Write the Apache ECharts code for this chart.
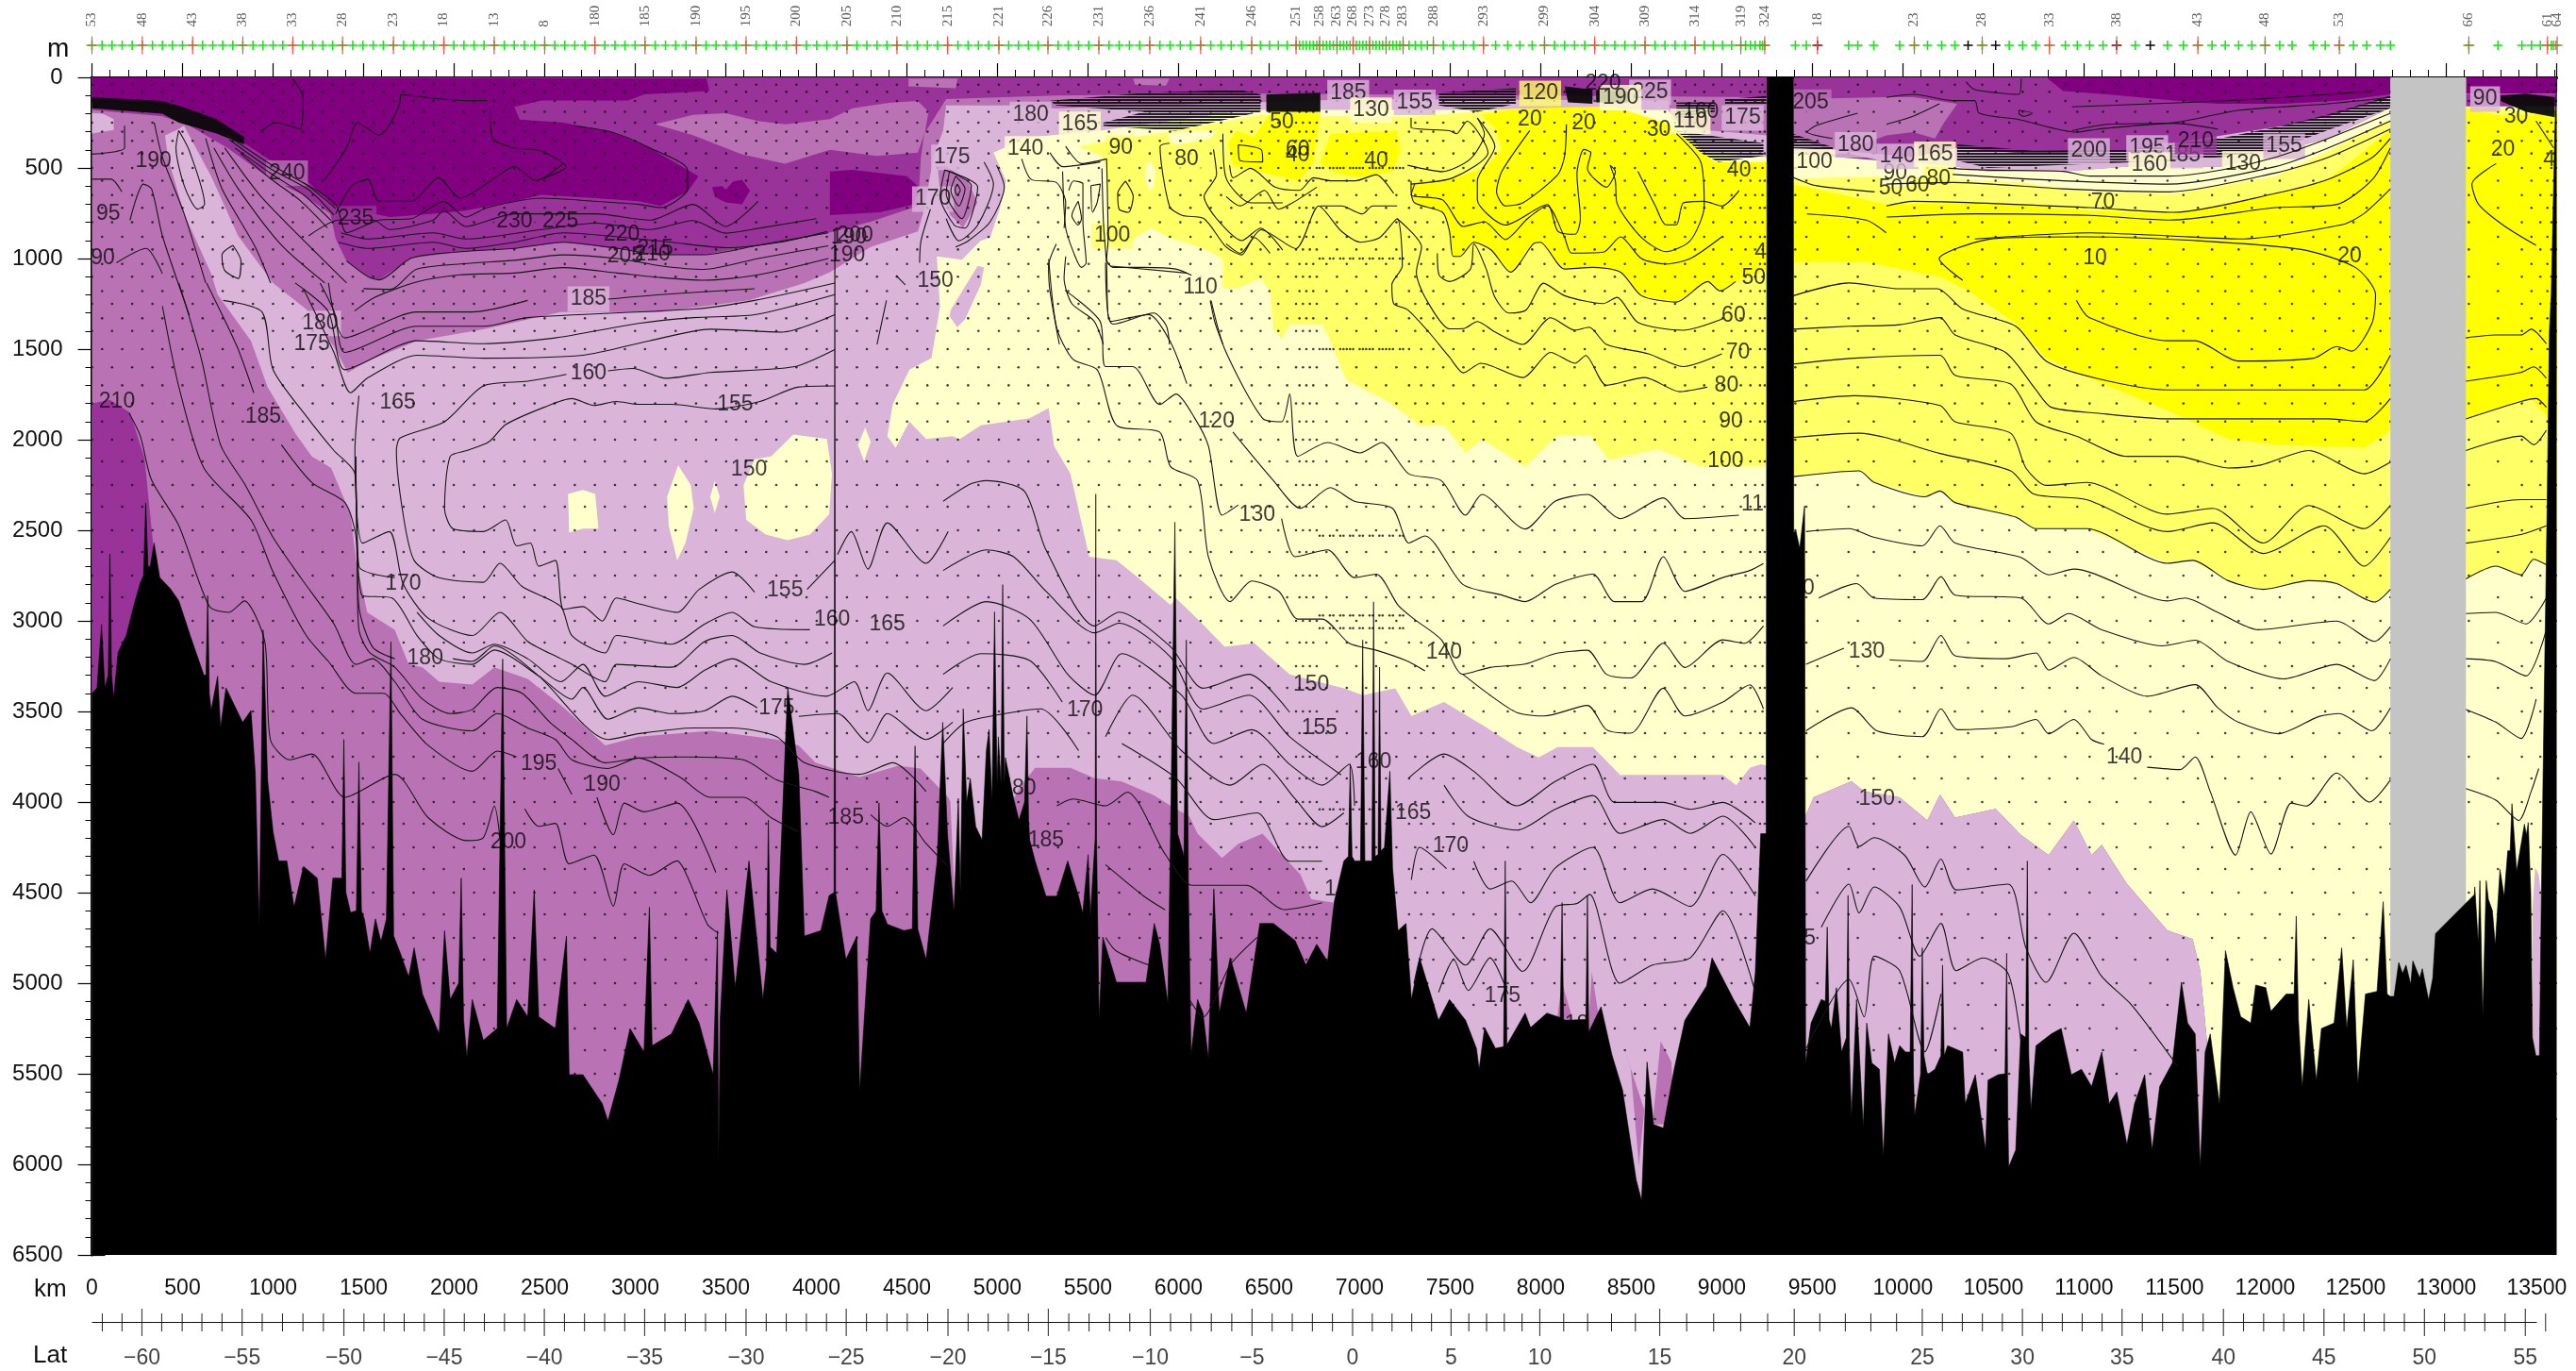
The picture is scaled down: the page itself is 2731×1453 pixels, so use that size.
<!DOCTYPE html>
<html>
<head>
<meta charset="utf-8">
<style>html,body{margin:0;background:#fff}#main{width:2731px;height:1453px}</style>
<script src="https://cdn.jsdelivr.net/npm/echarts@6/dist/echarts.min.js"></script>
</head>
<body>
<div id="main"></div>
<script>
// colours of the filled bands
const cDark = '#800080', cPurple = '#993399', cMedium = '#b973b4', cLight = '#dbb5d9';
const cPale = '#ffffcc', cLemon = '#ffff66', cYellow = '#ffff00', cGray = '#c4c4c4', cInk = 'rgba(10,10,10,0.95)';

// top strip: station ticks and numbers
const stationLabels = ['53','48','43','38','33','28','23','18','13','8','180','185','190','195','200','205','210','215','221','226','231','236','241','246','251','258','263','268','273','278','283','288','293','299','304','309','314','319','324','18','23','28','33','38','43','48','53','66','61','64'];
const stationLabelKm = [0,278,556,833,1109,1384,1665,1943,2221,2500,2777,3054,3336,3612,3890,4169,4445,4725,5008,5279,5560,5841,6122,6404,6649,6779,6875,6964,7055,7146,7240,7407,7684,8021,8298,8576,8852,9105,9237,9528,10063,10438,10809,11180,11629,12000,12410,13125,13559,13613];
const stationKm = [0,56,111,167,222,278,334,389,445,500,556,611,667,722,778,833,889,944,1000,1054,1109,1164,1219,1274,1329,1384,1440,1496,1553,1609,1665,1721,1776,1832,1887,1943,1998,2054,2110,2165,2221,2277,2332,2388,2444,2500,2555,2611,2666,2722,2777,2832,2888,2943,2999,3054,3110,3167,3223,3280,3336,3391,3446,3502,3557,3612,3668,3723,3779,3834,3890,3946,4002,4058,4113,4169,4224,4279,4335,4390,4445,4501,4557,4613,4669,4725,4782,4838,4895,4951,5008,5062,5116,5171,5225,5279,5335,5391,5448,5504,5560,5616,5672,5729,5785,5841,5897,5953,6010,6066,6122,6178,6235,6291,6348,6404,6453,6502,6551,6600,6649,6668,6687,6706,6725,6744,6763,6779,6798,6817,6836,6855,6875,6893,6911,6929,6947,6964,6982,7000,7018,7036,7055,7073,7091,7109,7127,7146,7165,7184,7203,7222,7240,7273,7307,7340,7374,7407,7462,7518,7573,7629,7684,7751,7818,7885,7953,8021,8076,8132,8187,8243,8298,8354,8409,8465,8520,8576,8631,8686,8742,8797,8852,8903,8953,9004,9054,9105,9131,9158,9184,9211,9225,9237,9406,9467,9528,9700,9751,9839,9982,10063,10136,10214,10287,10360,10438,10512,10587,10661,10734,10809,10897,10963,11031,11105,11180,11283,11366,11461,11549,11629,11707,11780,11854,11927,12000,12081,12149,12266,12332,12410,12488,12561,12637,12692,13125,13286,13418,13471,13520,13559,13581,13593,13606];
const blackStationKm = [9528,10360,10512,11180,11366];

// bottle depths, stations alternate between the two lists
const levelsOdd = [40,130,250,350,500,650,800,950,1100,1250,1400,1600,1800,2000,2250,2500,2750,3000,3250,3500,3750,4000,4250,4500,4750,5000,5250,5500,5750];
const levelsEven = [80,190,300,420,570,720,880,1030,1180,1330,1500,1700,1900,2120,2370,2620,2870,3120,3370,3620,3870,4120,4370,4620,4870,5120,5370,5620];
// the closely spaced stations near the equator were only sampled at a few depths
const levelsDense = [500,1000,1500,2530,2970,3040,4040];

// bottom strip: latitude
const latLabels = ['−60','−55','−50','−45','−40','−35','−30','−25','−20','−15','−10','−5','0','5','10','15','20','25','30','35','40','45','50','55'];
const latMajorKm = [276,829,1391,1945,2498,3052,3612,4165,4727,5281,5844,6406,6961,7505,7995,8657,9400,10107,10660,11210,11770,12325,12880,13437];
const latMinorKm = [57,166,385,498,607,718,940,1052,1165,1278,1502,1613,1724,1835,2056,2167,2278,2389,2609,2720,2831,2942,3164,3276,3388,3500,3723,3834,3945,4056,4277,4390,4502,4615,4838,4949,5060,5171,5394,5506,5619,5731,5956,6069,6181,6294,6517,6628,6739,6850,7070,7179,7288,7397,7603,7701,7799,7897,8127,8259,8391,8523,8806,8955,9104,9253,9541,9682,9823,9965,10218,10328,10439,10549,10770,10880,10990,11100,11322,11434,11546,11658,11881,11992,12103,12214,12436,12547,12658,12769,12991,13102,13213,13325,13549];

// sea floor, read spike by spike
const bathymetry = [[0,3400],[28,3370],[53,3020],[71,3370],[90,3300],[99,2630],[108,3300],[120,3430],[144,3175],[190,3080],[230,2920],[267,2790],[285,2750],[297,2350],[309,2700],[322,2700],[343,2570],[374,2760],[435,2825],[480,2890],[542,3080],[618,3300],[630,3300],[639,2860],[648,3400],[658,3495],[694,3305],[710,3590],[740,3370],[786,3465],[832,3560],[878,3495],[902,3845],[924,4675],[945,3050],[970,3880],[1000,4165],[1031,4325],[1076,4325],[1116,4580],[1168,4355],[1244,4420],[1290,4870],[1330,4420],[1380,4420],[1391,3655],[1402,4500],[1428,4610],[1460,4600],[1474,3780],[1488,4600],[1504,4645],[1535,4835],[1565,4645],[1596,4770],[1626,4645],[1651,3115],[1666,4740],[1703,4835],[1749,4965],[1779,4805],[1825,5060],[1917,5280],[1947,4710],[1978,5090],[2025,5000],[2039,4420],[2052,5200],[2070,5410],[2100,5090],[2161,5315],[2238,5250],[2268,3210],[2290,5250],[2345,5090],[2406,5185],[2442,4485],[2467,5185],[2559,5250],[2620,4740],[2635,5505],[2711,5505],[2818,5665],[2849,5760],[2910,5535],[2971,5250],[3048,5380],[3078,4580],[3093,5345],[3200,5280],[3292,5090],[3353,5220],[3430,5505],[3454,4710],[3460,5985],[3469,5200],[3506,4485],[3552,5025],[3628,4325],[3705,5090],[3725,4900],[3735,4100],[3745,4800],[3781,4835],[3842,3370],[3903,3845],[3934,4740],[4025,4710],[4071,4515],[4098,4500],[4102,840],[4106,4500],[4163,4870],[4224,4740],[4239,5600],[4300,4645],[4330,4600],[4346,4005],[4362,4600],[4392,4675],[4484,4710],[4530,4700],[4545,3690],[4560,4700],[4606,4870],[4667,4325],[4698,3560],[4724,4175],[4760,4615],[4784,3980],[4795,4500],[4811,3485],[4830,4000],[4850,3870],[4880,4135],[4915,4210],[4939,3715],[4954,3600],[4970,4000],[4984,2950],[4998,3900],[5005,3640],[5020,3900],[5029,2800],[5038,3900],[5044,3755],[5089,3980],[5119,4100],[5150,4000],[5163,3525],[5172,4100],[5178,4210],[5208,4325],[5268,4520],[5328,4520],[5388,4325],[5448,4520],[5471,4615],[5501,4290],[5513,4630],[5540,4200],[5543,2300],[5547,4200],[5561,5205],[5582,4745],[5657,4995],[5732,4995],[5821,4995],[5866,4670],[5896,4785],[5941,5110],[5956,4175],[5980,2455],[5995,4175],[6030,4300],[6043,3105],[6055,4500],[6069,5395],[6105,5090],[6135,5165],[6165,5415],[6195,4480],[6225,5165],[6285,4860],[6374,5165],[6449,4670],[6524,4670],[6644,4765],[6703,4900],[6763,4785],[6823,4880],[6859,4555],[6913,4325],[6938,4300],[6948,3790],[6958,4300],[6972,4325],[7005,4325],[7017,3105],[7029,4325],[7038,4325],[7068,4325],[7077,2895],[7086,4300],[7092,4290],[7102,4290],[7110,3255],[7118,4270],[7137,4250],[7167,3830],[7182,4365],[7212,4710],[7256,4670],[7286,5090],[7331,4860],[7436,5205],[7496,5090],[7585,5205],[7645,5360],[7660,5475],[7690,5245],[7750,5360],[7795,5350],[7804,4325],[7813,5340],[7825,5320],[7914,5165],[7944,5245],[8034,5165],[8108,5190],[8118,4555],[8126,5200],[8139,5205],[8250,5200],[8258,4515],[8265,5270],[8273,5280],[8333,5130],[8393,5395],[8452,5590],[8527,6085],[8557,6200],[8587,5435],[8623,5780],[8677,5800],[8737,5475],[8796,5205],[8916,5015],[8946,4860],[9065,5090],[9155,5245],[9185,4940],[9215,4175],[9245,4175],[9250,0],[9395,0],[9397,2510],[9410,2505],[9430,2600],[9457,2365],[9463,5440],[9493,5220],[9521,5155],[9549,5090],[9572,5100],[9582,4690],[9592,5200],[9605,5250],[9633,5025],[9661,5380],[9688,5300],[9697,4515],[9705,5400],[9716,5730],[9744,5090],[9781,5795],[9800,5220],[9828,5440],[9870,5475],[9892,5955],[9920,5280],[9954,5440],[9982,5345],[10015,5380],[10040,5380],[10051,4455],[10058,5500],[10065,5730],[10098,5500],[10107,4805],[10116,5400],[10135,5505],[10177,5475],[10210,5400],[10219,4900],[10228,5400],[10247,5345],[10330,5380],[10344,5665],[10400,5505],[10456,5920],[10470,5535],[10526,5505],[10564,5500],[10573,4835],[10579,5700],[10584,6015],[10623,5920],[10651,5280],[10678,5300],[10687,4325],[10695,5400],[10707,5700],[10735,5345],[10819,5280],[10874,5250],[10930,5505],[10986,5475],[11042,5570],[11098,5380],[11139,5665],[11181,5600],[11237,5890],[11279,5665],[11335,5505],[11376,5920],[11418,5570],[11488,5440],[11538,4995],[11572,5220],[11614,5280],[11642,6015],[11669,5380],[11697,5280],[11748,5665],[11781,4820],[11823,5025],[11865,5185],[11921,5220],[11948,5010],[12004,5025],[12032,5155],[12116,5060],[12160,5060],[12172,4630],[12184,5200],[12205,5570],[12241,5090],[12283,5535],[12311,5250],[12381,5220],[12423,4805],[12451,5250],[12487,4870],[12512,5555],[12554,5060],[12618,5045],[12652,4550],[12674,5060],[12691,5073],[12712,5073],[12738,4886],[12759,4946],[12778,4900],[12804,5007],[12816,4877],[12854,4972],[12868,4920],[12903,5094],[12926,4972],[12941,4726],[13155,4512],[13158,4469],[13177,4781],[13186,4434],[13202,5180],[13221,4434],[13233,4538],[13255,4599],[13271,4790],[13297,4373],[13320,4521],[13340,4269],[13353,4269],[13363,4009],[13389,4382],[13432,4122],[13443,4182],[13453,4113],[13467,4504],[13476,5300],[13495,5400],[13515,5400],[13526,4500],[13540,3500],[13557,2400],[13570,1400],[13580,1200],[13600,300],[13610,0]];

// filled bands, painted in this order
const baseA = [[0,0],[9250,0],[9250,6500],[0,6500]];
const deepLeft = [[0,1800],[100,1780],[210,1850],[290,2100],[330,2500],[370,2900],[370,3700],[0,3700]];
const lightMain = [[479,285],[508,267],[658,545],[807,875],[1000,1135],[1183,1280],[1336,1486],[1413,1630],[1520,1566],[1795,1454],[2161,1390],[2589,1295],[3139,1295],[3628,1230],[3934,1135],[4075,1075],[4300,936],[4561,850],[4596,728],[4648,433],[4700,294],[4717,155],[5082,155],[5325,172],[6436,138],[7000,120],[9250,130],[9250,6500],[6870,6500],[6853,4555],[6733,4537],[6673,4400],[6569,4290],[6464,4174],[6330,4231],[6240,4308],[6105,4174],[6060,4080],[5956,4021],[5866,3964],[5687,3887],[5537,3868],[5403,3811],[5208,3811],[5148,3887],[5089,3980],[5100,4900],[4780,4900],[4740,4000],[4728,3974],[4575,3815],[4453,3800],[4239,3862],[3995,3783],[3903,3687],[3781,3655],[3414,3607],[3017,3639],[2834,3687],[2711,3575],[2589,3465],[2406,3320],[2222,3256],[2100,3352],[1917,3336],[1825,3256],[1749,3240],[1672,3049],[1520,2953],[1458,2666],[1428,2411],[1321,2156],[1214,2092],[1122,1964],[970,1709],[878,1454],[694,1199],[658,1083],[509,753],[419,441],[404,320]];
const floorPatch1 = [[8079,5282],[8118,4995],[8168,5170],[8183,5320]];
const floorPatch2 = [[8258,5320],[8282,4938],[8324,5205]];
const floorPatch3 = [[8461,5358],[8497,5473],[8542,6008],[8572,5700]];
const floorPatch4 = [[8617,5778],[8662,5320],[8722,5435],[8737,5778]];
const surfacePocket = [[0,197],[60,200],[120,230],[120,290],[60,300],[0,310]];
const upperPurple = [[0,0],[9250,0],[9250,110],[6436,90],[5325,100],[4717,120],[4596,311],[4578,433],[4561,710],[4300,797],[4066,858],[3678,927],[3379,979],[3140,979],[2901,944],[2602,910],[2332,944],[2033,962],[1764,997],[1585,1118],[1525,1101],[1406,1014],[1346,892],[1316,753],[1166,649],[987,563],[748,389],[538,267],[389,215],[0,180]];
const mediumTongue = [[3110,259],[3319,207],[3499,198],[3678,241],[3828,259],[4075,230],[4200,170],[4400,140],[4560,130],[4620,190],[4600,300],[4561,415],[4335,433],[4075,400],[3827,476],[3588,424],[3319,319]];
const mediumTop1 = [[4509,7],[4780,7],[4770,60],[4509,50]];
const mediumTop2 = [[5750,7],[5950,7],[5930,45],[5760,40]];
const mediumRight = [[8700,120],[9250,120],[9250,320],[8900,290],[8730,240]];
const mediumSwirl = [[4670,490],[4720,490],[4840,580],[4890,690],[4810,830],[4740,760],[4680,600]];
const darkMain = [[0,0],[3394,7],[3409,76],[3050,94],[2960,128],[2482,128],[2332,163],[2362,233],[2602,250],[2870,302],[3080,389],[3289,510],[3349,545],[3289,632],[3140,710],[3020,684],[2781,667],[2482,649],[2332,684],[2063,736],[1884,753],[1645,771],[1555,753],[1346,719],[1196,580],[987,458],[748,302],[538,181],[389,163],[0,128]];
const darkIsland = [[3424,605],[3480,600],[3500,620],[3540,575],[3590,565],[3633,625],[3590,700],[3500,690],[3440,660]];
const darkCore = [[4075,520],[4200,510],[4500,545],[4560,600],[4540,700],[4350,745],[4075,760]];
const paleMain = [[4978,415],[5151,337],[5290,320],[5568,294],[6400,180],[8700,180],[8900,420],[9250,440],[9250,3800],[9215,3792],[9155,3811],[9080,3907],[9006,3850],[8677,3850],[8438,3850],[8288,3696],[8094,3696],[7989,3754],[7869,3696],[7690,3582],[7466,3448],[7286,3525],[7197,3372],[7017,3410],[6913,3372],[6614,3295],[6419,3124],[6255,3143],[6105,2990],[5986,2875],[5956,2913],[5776,2761],[5657,2665],[5507,2646],[5403,2188],[5313,2035],[5283,1825],[5178,1882],[4909,1920],[4790,1997],[4753,1980],[4606,1996],[4514,1900],[4438,2044],[4392,1980],[4422,1805],[4514,1613],[4636,1550],[4683,1266],[4665,988],[4804,1006],[4908,901],[4960,884],[5012,728],[5047,572]];
const lightIsland = [[4743,1283],[4891,1040],[4926,1049],[4908,1145],[4821,1335],[4778,1379],[4735,1318]];
const paleIsland1 = [[2629,2299],[2711,2277],[2779,2299],[2797,2491],[2711,2491],[2635,2513]];
const paleIsland2 = [[3237,2140],[3307,2251],[3323,2379],[3277,2570],[3232,2666],[3185,2475],[3176,2315]];
const paleIsland3 = [[3439,2226],[3466,2315],[3439,2405],[3414,2315]];
const paleIsland4 = [[3750,2092],[3873,1971],[4058,1996],[4086,2188],[4071,2411],[3965,2523],[3842,2555],[3720,2523],[3613,2443],[3598,2251],[3659,2108]];
const paleIsland5 = [[4270,1933],[4300,2012],[4264,2118],[4230,2028]];
const lemonMain = [[5446,381],[5637,346],[5880,311],[6453,207],[7265,220],[7862,172],[8400,200],[8710,259],[8850,370],[8961,467],[9250,470],[9250,2149],[8886,2149],[8647,2054],[8378,2111],[8273,1977],[8094,1977],[7914,2149],[7795,2073],[7675,1997],[7585,2073],[7466,1920],[7331,1920],[7152,1787],[6928,1672],[6823,1424],[6793,1366],[6614,1366],[6569,1443],[6523,1388],[6505,1179],[6453,1110],[6332,1162],[6245,1162],[6245,1006],[6158,953],[5950,884],[5846,832],[5724,910],[5620,930],[5600,500],[5577,433]];
const paleOval1 = [[5846,459],[5872,520],[5863,606],[5837,624],[5816,554],[5820,485]];
const paleOval2 = [[5941,311],[6072,294],[6210,294],[6175,337],[5985,372],[5950,346]];
const yellowMain = [[7670,207],[7862,172],[8400,160],[8710,259],[8961,467],[9250,470],[9250,1058],[9076,1127],[8990,1179],[8922,1127],[8749,1240],[8556,1205],[8441,1075],[8286,1049],[8132,1058],[7997,910],[7959,919],[7833,1075],[7727,953],[7631,910],[7554,988],[7516,988],[7496,849],[7458,745],[7304,693],[7284,624],[7284,572],[7496,563],[7689,502],[7785,398],[7747,277]];
const yellowLens1 = [[6321,294],[6417,329],[6513,190],[6783,190],[6745,467],[6668,572],[6513,537],[6379,502],[6301,485],[6273,363]];
const yellowLens2 = [[6841,311],[7207,294],[7226,398],[7188,520],[6995,554],[6841,520],[6783,467]];

const baseB = [[9395,0],[12692,0],[12692,6500],[9395,6500]];
const darkB = [[10800,7],[10885,76],[11129,94],[11495,128],[11739,146],[12105,146],[12422,128],[12692,94],[12692,0],[10800,0]];
const mediumB = [[9395,120],[9909,110],[10055,110],[10300,146],[10227,250],[10177,337],[10055,302],[9909,320],[9700,400],[9500,500],[9395,500]];
const lightB = [[9395,340],[9612,400],[10055,440],[10300,389],[10714,424],[11227,406],[11763,320],[12105,267],[12349,215],[12692,111],[12692,163],[12666,181],[12349,337],[11983,432],[11763,493],[11227,493],[10885,519],[10470,519],[10300,493],[10055,500],[9700,420],[9395,420]];
const paleB = [[9395,420],[10300,493],[10470,519],[10885,519],[11227,493],[11763,493],[11983,432],[12349,337],[12666,181],[12692,163],[12692,6500],[11684,6500],[11684,5378],[11642,4931],[11600,4756],[11460,4708],[11237,4452],[11098,4236],[11042,4293],[10944,4102],[10805,4293],[10651,4181],[10512,4038],[10288,4086],[10205,3958],[10135,4102],[9981,3974],[9786,3942],[9716,3885],[9507,3974],[9465,4070],[9395,4070]];
const lightDeepB = [[9395,4070],[9465,4070],[9507,3974],[9716,3885],[9786,3942],[9981,3974],[10135,4102],[10205,3958],[10288,4086],[10512,4038],[10651,4181],[10805,4293],[10944,4102],[11042,4293],[11098,4236],[11237,4452],[11460,4708],[11600,4756],[11642,4931],[11684,5378],[11684,6500],[9395,6500]];
const lemonB = [[9395,560],[9909,545],[10641,580],[11032,632],[11495,641],[12056,545],[12349,406],[12692,230],[12692,2826],[12604,2896],[12395,2794],[12241,2778],[11990,2826],[11795,2778],[11600,2666],[11460,2682],[11014,2491],[10735,2491],[10623,2427],[10288,2347],[10205,2283],[10121,2315],[9842,2236],[9758,2172],[9396,2204],[9395,2204]];
const yellowB = [[9395,590],[9909,701],[10470,693],[11032,736],[11495,753],[12056,641],[12349,563],[12692,290],[12692,1948],[12548,2044],[12074,2028],[11795,1996],[11460,1837],[11070,1677],[10791,1550],[10623,1358],[10344,1167],[10200,1100],[9800,1020],[9395,1020]];
const paleC = [[13109,0],[13610,0],[13610,6500],[13109,6500]];
const darkC = [[13109,0],[13610,0],[13610,90],[13109,90]];
const purpleC = [[13109,90],[13610,90],[13610,160],[13109,160]];
const lemonC = [[13109,165],[13610,190],[13610,2690],[13553,2690],[13483,2660],[13413,2746],[13274,2698],[13109,2768]];
const yellowC = [[13109,175],[13300,210],[13610,200],[13610,1900],[13553,1869],[13469,1773],[13109,1885]];
const stripeC = [[13491,4361],[13476,4600],[13476,5400],[13524,5400],[13524,4500],[13510,4400]];
const gapGray = [[12692,0],[13109,0],[13109,6500],[12692,6500]];

// dense thermocline: contours run together, solid where they merge, striped where still apart
const ribbon1 = [[0,110],[389,130],[508,165],[687,230],[840,330],[840,370],[687,310],[480,250],[389,200],[0,170]];
const ribbon3 = [[6485,94],[6783,85],[6783,190],[6485,190]];
const ribbon5 = [[8132,50],[8286,68],[8286,146],[8151,138]];
const ribbon6 = [[8306,68],[8537,85],[8537,138],[8306,138]];
const ribbon12 = [[13300,100],[13440,90],[13600,110],[13600,220],[13440,190],[13300,130]];
const stripes2 = [[5290,129],[5811,86],[6332,68],[6453,94],[6453,190],[5985,294],[5585,268],[5585,250],[5811,190],[5325,155]];
const stripes4 = [[7438,85],[7862,60],[7862,146],[7650,190],[7438,155]];
const stripes7 = [[8749,294],[8864,311],[9230,363],[9230,433],[8980,467],[8884,415]];
const stripes8 = [[9018,120],[9246,103],[9246,146],[9018,146]];
const stripes9 = [[8749,138],[8961,138],[8961,190],[8749,224]];
const stripes10 = [[9390,310],[9612,385],[9612,400],[9390,390]];
const stripes11 = [[10300,370],[10714,405],[11227,400],[11763,335],[12105,265],[12349,205],[12692,100],[12692,170],[12349,290],[12056,400],[11763,440],[11227,470],[10714,490],[10470,500],[10300,460]];

// contour lines, null where a label interrupts the line
const lineA1 = [[4102,1703],[3903,1709],[3689,1789],[3445,1830],[3200,1805],[3017,1805],[2895,1789],[2772,1811],[2650,1773],[2497,1821],[2284,1917],[2192,2012],[2070,2060],[1978,2092],[1947,2379],[1993,2491],[2161,2507],[2284,2443],[2345,2586],[2421,2570],[2467,2698],[2559,2666],[2604,2937],[2711,2921],[2818,3001],[2895,2874],[3017,2905],[3231,2953],[3353,2826],[3536,2730],[3659,2842],null,[3949,2826],[4102,2666]];
const lineA2 = [[4102,1502],[3873,1598],[3414,1629],[3170,1661],[2986,1607],[2849,1620],null,[2620,1639],[2406,1677],[2161,1703],[1947,1901],[1703,1990],[1681,2060],[1718,2411],[1779,2666],[1917,2762],[2161,2787],[2253,2682],[2375,2810],[2589,2921],[2650,3081],[2834,3177],[2895,3081],[3200,3129],[3384,3017],[3536,2953],[3659,3033],[3964,3049],null,[4117,2634],[4193,2507],[4285,2714],[4392,2459],[4606,2682],[4728,2507]];
const lineA3 = [[1474,1757],[1452,2060],[1495,2571],[1642,2507],[1718,2794],[1856,2985],[2100,3081],[2253,2953],[2406,3113],[2589,3209],[2650,3240],[2834,3336],[2895,3240],[3200,3256],[3384,3113],[3536,3081],[3689,3177],[3934,3240],[4087,3177]];
const lineA4 = [[1458,2092],[1474,2698],[1672,2762],null,[1795,2953],[1917,3081],[2100,3177],[2222,3129],[2406,3209],[2589,3336],[2711,3240],[2834,3416],[3017,3336],[3231,3368],[3384,3272],[3536,3209],[3750,3336],[4056,3416],[4209,3336],[4285,3496],[4392,3288],[4606,3496],[4753,3368]];
const lineA5 = [[1458,2156],[1489,2858],[1657,2874],[1795,3081],[1917,3209],[2100,3240],[2222,3161],[2467,3304],[2650,3432],[2711,3368],[2849,3543],[3017,3480],[3200,3512],[3384,3496],[3536,3416],[3674,3480],null,[3903,3527],[4117,3512],[4285,3671],[4392,3512],[4606,3655],[4753,3559]];
const lineL1 = [[205,1853],[267,1980],[328,2220],[480,2475],[649,2921],[756,2953],[841,2890],[954,3113],[985,3655],[1092,3767],[1214,3735],[1397,3974],[1672,3847],[1856,4086],[2070,4213],[2161,4197],[2222,4022],[2253,4197],null,[2390,4038],[2467,4134],[2559,4118],[2635,4341],[2772,4293],[2879,4574],[2940,4341],[3078,4405],[3231,4325],[3292,4420],[3399,4676],[3460,4724]];
const lineL2 = [[389,1263],[480,1709],[618,2156],[878,2443],[1000,2730],[1183,3081],[1306,3224],[1458,3400],[1611,3400],[1703,3512],[1856,3687],[2100,3830],[2238,3719],[2345,3751],null,[2574,3815],[2650,3958],null,[2788,3974],[2879,4181],[2940,4006],[3048,4054],[3231,4006],[3445,4389]];
const lineL3 = [[480,1135],[603,1550],[710,2028],[847,2251],[1000,2539],[1153,2762],[1336,3017],[1458,3240],[1550,3209],[1672,3336],[1825,3543],[2100,3607],[2238,3512],[2406,3591],[2559,3655],[2650,3767],[2849,3815],[3017,3757],[3246,3862],[3414,3974],[3598,3974],[3750,4086],[3903,4165]];
const lineL4 = [[633,1135],[801,1486],[893,1741],null,[1046,2028],[1214,2236],[1397,2347],[1458,2539],[1474,3049],[1535,3177],[1672,3256],[1825,3432],[1978,3512],[2100,3489],[2238,3368],[2375,3400],[2528,3559],[2650,3655],[2834,3783],[3017,3757],[3262,3751],[3598,3767],[3781,3878],[3995,3942],[4071,3974],null,[4300,4070],[4392,4134],[4484,4086],[4606,4229],[4728,4357]];
const lineL5 = [[725,1231],[939,1295],[1000,1613],[1183,1869],[1336,2060],[1452,2188],[1474,2921],[1550,3145],[1672,3209],null,[1993,3209],[2100,3224],[2222,3138],[2467,3304],[2849,3655],[3017,3623],[3323,3591],[3536,3591],[3781,3639],[3934,3783],[4239,3847],[4423,3783],[4606,3942]];
const lineU2 = [[4102,1310],[3811,1406],[3414,1390],[3078,1454],[2711,1534],[2161,1550],[1795,1534],[1519,1661],[1428,1741],[1336,1518],[1168,1167]];
const lineU3 = [[4102,1199],[3659,1310],[3323,1326],[3017,1358],[2559,1438],[2161,1470],[1795,1454],[1397,1614],[1306,1294],[1122,1135]];
const lineU4 = [[4102,1135],[3659,1231],[3323,1279],[2406,1326],[2161,1374],[1795,1374],[1397,1518],[1340,1300],[1260,1135]];
const lineU5 = [[3659,1167],[3139,1199],[2850,1224],null,[2406,1231],[2100,1295],[1795,1295],[1397,1438],[1306,1135]];
const lineT2 = [[180,267],[180,389],[0,424]];
const lineT3 = [[0,562],[105,562],[165,632]];
const lineT4 = [[210,788],[284,589],[329,615],[389,875],[538,1313]];
const lineT5 = [[344,250],[389,441],[509,753],[628,1135]];
const loopT6 = [[479,293],[538,406],[622,701],[583,727],[509,597],[464,389],[479,293]];
const loopT7 = [[778,927],[823,1014],[808,1110],[733,1066],[718,979],[778,927]];
const lineT8 = [[135,1023],[299,944],[389,1084]];
const lineS2 = [[673,389],[808,615],[1047,927],[1286,1135]];
const lineS3 = [[733,389],[927,650],[1196,927],[1406,1135]];
const lineS4 = [[628,337],[718,615],[897,927],[987,1135]];
const slope1 = [[748,320],[987,480],[1196,600],[1346,725]];
const slope2 = [[760,345],[987,505],[1196,620],[1336,760]];
const slope3 = [[790,390],[987,530],[1170,650],[1320,790]];
const slope4 = [[820,420],[987,560],[1150,680],[1300,830]];
const lineH1 = [[1346,753],[1436,597],[1525,563],[1585,684],[1764,684],[1914,554],[2033,667],[2213,563],[2332,493],[2452,571],[2602,476]];
const lineH1b = [[1286,563],[1406,389],[1465,250],[1585,319],[1704,111],[1704,94],[2063,128],[2183,128]];
const lineH1c = [[1107,7],[1166,111],[1151,285],[1017,250],[927,302]];
const lineH1d = [[2198,163],[2213,337],[2332,389],[2482,406],[2617,493],[2452,571]];
const lineH2 = [[1166,580],[1346,701],[1406,858],[1585,788],[1764,780],[1943,684],[2063,771],[2183,719],[2482,667],[2781,684],[3020,701],[3140,719],[3289,615],[3289,510],[3080,389],[2870,302],[2661,267]];
const lineH3 = [[1196,875],[1361,788],[1555,788],[1645,840],[1884,788],[1943,736],[2063,823],[2332,753],[2781,753],[3080,788],[3319,701],[3499,823],[3678,684]];
const lineH4 = [[1376,858],[1525,892],[1884,858],[2063,892],[2482,840],[2781,805],[3080,840],[3319,790],[3499,860],[3700,830],[4000,780]];
const lineH5 = [[1361,910],[1525,944],[1884,910],[2063,944],[2332,910],[2602,858],[2901,880],[3200,910],[3499,940],[3800,910],[4060,850]];
const lineH6 = [[1406,1014],[1525,1101],[1585,1118],[1764,997],[2033,962],[2332,944],[2602,910],[2901,944],[3140,979],[3379,979],[3678,927],[4066,858]];
const lineH7 = [[1500,1166],[1650,1170],[1790,1060],[2033,1030],[2332,1010],[2602,980],[2901,1000],[3140,1040],[3379,1060],[3678,1000],[4066,930]];
const lineH8 = [[1450,1290],[1560,1215],[1790,1130],[2033,1090],[2332,1080],[2602,1050],[2901,1080],[3140,1105],[3379,1120],[3678,1090],[4066,1000]];
const line140 = [[5283,1003],[5328,1385],[5418,1557],[5552,1615],[5657,1920],[5896,1958],[5956,2149],[6105,2226],[6165,2646],[6285,2894],[6404,2780],[6554,2837],[6658,2990],[6793,2990],[6943,3124],[7092,3162],[7256,3219],[7361,3276],null,[7570,3295],[7720,3410],[7869,3506],[8019,3525],[8258,3467],[8363,3601],[8497,3620],[8677,3372],[8796,3525],[9006,3448],[9155,3353],[9230,3486]];
const line130 = [[5373,1175],[5567,1347],[5597,1596],[5747,1596],[5896,1806],[5986,1748],[6090,1882],[6165,2035],[6240,2417],[6330,2360],null,[6569,2436],[6644,2646],[6823,2608],[6972,2761],[7092,2742],[7212,2913],[7301,2990],[7451,3104],[7570,3295],[7720,3257],[7914,3238],[8079,3181],[8258,3162],[8363,3295],[8497,3315],[8677,3124],[8796,3257],[9006,3105],[9125,3124],[9230,3028]];
const line120 = [[5597,1023],[5627,1347],[5836,1309],[5956,1462],[6046,1691],null,[6300,1958],[6524,2226],[6673,2379],[6838,2264],[6972,2340],[7182,2379],[7271,2570],[7361,2531],[7570,2799],[7780,2856],[7914,2894],[8079,2799],[8288,2742],[8408,2894],[8557,2894],[8677,2646],[8796,2837],[9006,2761],[9155,2722],[9230,2684]];
const line110 = [[5627,1042],[6046,1080],null,[6180,1233],[6255,1500],[6464,1882],[6569,1901],[6614,1748],[6658,2092],[6823,2016],[7002,2073],[7122,2016],[7271,2188],[7451,2226],[7585,2417],[7675,2302],[7914,2493],[8079,2340],[8258,2302],[8438,2436],[8677,2321],[8796,2436],[9095,2417]];
const lineN1 = [[4700,2340],[4850,2245],[4939,2226],[5148,2283],[5268,2608],[5537,3028],[5672,2952],[5956,3143],[6135,3372],[6389,3295],[6614,3505],null,[6898,3754]];
const lineN2 = [[4700,2722],[4939,2608],[5089,2646],[5268,2837],[5537,3066],[5672,3013],[5956,3200],[6135,3487],[6389,3410],[6614,3640],[6898,3850]];
const lineN3 = [[4700,3028],[4939,2894],[5178,2990],[5388,3295],[5537,3410],[5687,3181],[6016,3410],[6195,3677],[6404,3601],[6614,3792],[6793,3907],[6943,3792],[6972,4021]];
const lineN4 = [[4700,3295],[4909,3181],[5178,3219],[5358,3448],null,[5597,3639],[5747,3410],[6016,3716],[6285,3907],[6464,3792],[6644,3983],[6793,4136],[6913,4060]];
const lineN5 = [[4700,3677],[4820,3563],[4969,3525],[5238,3486],[5448,3716],null,[5687,3677],[5986,3868],[6195,4097],[6434,4060],[6614,4327],[6793,4327]];
const lineN6 = [[5328,4021],[5418,3983],[5597,4021],[5717,3945],[5926,4288],[6075,4460],[6374,4460],[6584,4594],[6793,4556]];
const lineN7 = [[5597,4346],[5806,4518],[5926,4595]];
const lineN8 = [[6060,5090],[6135,5186],[6285,4900],[6434,4747]];
const lineN9 = [[5597,4747],[5657,4823],[5836,4900]];
const lineP1 = [[7271,3868],[7466,3735],[7630,3830],[7869,4021],[8079,3887],[8288,3792],[8408,4002],[8677,4002],[8826,4040],[9006,4002],[9185,4115]];
const lineP2 = [[7466,3907],[7600,4079],[7869,4155],[8079,4040],[8288,3964],[8438,4173],[8677,4097],[8826,4173],[9006,4078],[9185,4250]];
const lineP3 = [[7286,4430],[7331,4250],[7480,4368],null,[7630,4327],[7720,4480],[7840,4436],[7944,4556],[8079,4365],[8288,4250],[8438,4556],[8617,4480],[8826,4576],[9006,4289],[9185,4518]];
const lineP4 = [[7300,5000],[7400,4700],[7585,4900],[7720,4700],[7900,4935],[8079,4580],[8200,4560],[8270,4510],[8438,5000],[8617,4900],[8826,4860],[9006,4600],[9185,5050]];
const lineP5 = [[7436,5050],[7520,4870],[7600,5040],[7720,4860],[7820,5060]];
const line80 = [[6263,919],[6340,971],[6456,841],[6648,945],[6774,710],[6899,849],[7005,910],[7111,884],[7207,780],[7236,1040],[7178,1144],[7188,1249],[7265,1283],[7381,1405],[7496,1544],[7573,1631],[7670,1578],[7901,1657],[8055,1518],[8190,1578],[8248,1535],[8363,1700],[8575,1657],[8768,1735],[8920,1710]];
const line70 = [[7207,780],[7342,936],[7313,1075],[7361,1214],[7496,1388],[7573,1387],[7650,1348],[7747,1405],[7901,1474],[8055,1327],[8190,1396],[8267,1379],[8363,1474],[8595,1526],[8786,1596],[9000,1526]];
const line60 = [[7429,971],[7439,1092],[7496,1127],[7612,1058],[7631,919],[7699,1058],[7747,1214],[7824,1301],[7920,1284],[8016,1136],[8132,1205],[8344,1249],[8421,1214],[8537,1353],[8786,1396],[9000,1335]];
const line50 = [[7284,572],[7284,624],[7304,693],[7458,745],[7496,849],[7516,988],[7554,988],[7631,910],[7727,953],[7833,1075],[7959,919],[7997,910],[8132,1058],[8286,1049],[8441,1075],[8556,1205],[8749,1240],[8922,1127],[8990,1179],[9076,1127]];
const lineDots = [[6783,710],[6899,710],[7015,754],[7072,710],[7207,710]];
const lineY1 = [[6263,658],[6340,710],[6475,624],[6552,728],[6629,693],[6764,606]];
const lineY2 = [[6282,485],[6301,554],[6398,502],[6533,606],[6668,624],[6745,554],[6841,571],[6976,571],[7092,537],[7188,641]];
const loopY3 = [[6330,372],[6456,398],[6465,467],[6340,459],[6330,372]];
const lineY4 = [[7940,294],[7785,520],[7756,632],[7805,710],[7901,693],[8094,537],[8132,433],[8142,259]];
const lineY5 = [[7650,224],[7747,381],[7650,571],[7650,675],[7805,815],[8036,702],[8094,849],[8190,866],[8219,780],[8200,537],[8238,398],[8277,415],[8258,502],[8363,606],[8412,519],[8383,485],[8412,571],[8421,693],[8556,884],[8691,962],[8826,901],[8903,710],[8884,467],[8749,311]];
const lineY6 = [[7304,589],[7284,650],[7458,676],[7573,823],[7689,797],[7805,895],[7927,780],[8036,710],[8132,884],[8170,970],[8345,965],[8441,880],[8556,1000],[8691,1030],[8826,1000],[9000,880]];
const lineY7 = [[8537,520],[8633,710],[8691,814],[8749,814],[8788,693],[8903,684],[9000,710],[9096,624]];
const lineY8 = [[7284,224],[7284,276],[7496,294],[7535,311],[7593,242],[7709,415],[7516,554],[7284,589]];
const lineY9 = [[7265,485],[7458,520],[7612,450],[7689,311],[7650,224]];
const loopOval = [[5707,572],[5750,658],[5724,745],[5672,728],[5664,641],[5707,572]];
const lineV1 = [[5603,450],[5611,901],[5603,1006],[5637,1049],[5811,1049],[5985,1058],[6072,1093]];
const lineV2 = [[5577,502],[5586,815],[5603,1040],[5611,1318],[5637,1362],[5863,1301],[5932,1370],[5950,1474]];
const lineV2b = [[6175,1231],[6201,1353],[6245,1474]];
const loopV3 = [[5360,520],[5377,832],[5429,988],[5464,1049],[5490,1023],[5472,797],[5472,589],[5420,572],[5394,624]];
const loopV4 = [[5446,684],[5464,780],[5446,815],[5411,763],[5446,684]];
const loopV5 = [[5516,598],[5568,589],[5550,693],[5525,745],[5516,598]];
const lineV6 = [[5325,919],[5282,1040],[5290,1179],[5342,1474]];
const lineV6b = [[5377,988],[5368,1110],[5411,1249],[5533,1344],[5585,1474]];
const lineV7 = [[5134,450],[5186,563],[5325,580],[5377,693],[5368,832]];
const lineV8 = [[5290,415],[5360,493],[5568,467]];
const lineV8b = [[5377,381],[5464,476],[5603,450]];
const lineV9 = [[5950,363],[5898,381],[5950,711],[6020,762],[6141,780],[6262,936],[6349,980],[6418,884],[6505,971]];
const lineV11 = [[6193,398],[6210,537],[6141,658],[6210,780],[6349,901],[6453,832],[6575,954]];
const lineV12 = [[6245,311],[6262,554],[6401,693],[6575,693]];
const loopS1 = [[4778,589],[4795,624],[4778,650],[4766,620],[4778,589]];
const loopS2 = [[4769,545],[4821,615],[4787,710],[4743,624],[4769,545]];
const loopS3 = [[4735,520],[4856,598],[4804,780],[4717,641],[4735,520]];
const loopS4 = [[4709,511],[4891,606],[4821,832],[4761,815],[4683,658],[4709,511]];
const lineS5 = [[4926,467],[4978,589],[4891,815],[4787,902],[4717,780]];
const lineS6 = [[4995,485],[5038,606],[4960,797],[4839,902],[4769,936]];
const line150 = [[4440,1093],[4491,1145]];
const line150b = [[4387,1231],[4335,1474]];
const lineUp = [[4570,1023],[4578,902],[4630,728]];
const lineB1 = [[9396,1205],[9702,1135],[9982,1167],[10191,1167],[10330,1279],[10623,1374],[10791,1566],[11070,1661],[11460,1725],[11628,1725],[11921,1725],[12241,1725],[12548,1725],[12692,1534]];
const lineB2 = [[9396,1390],[9702,1374],[9982,1365],[10205,1326],[10288,1422],[10567,1518],[10735,1725],[10819,1821],[11070,1853],[11460,1885],[11907,1885],[12353,1885],[12548,1901],[12692,1773]];
const lineB3 = [[9396,1582],[9730,1550],[10205,1534],[10288,1645],[10595,1693],[10735,1901],[10958,1980],[11237,2092],[11516,2092],[11795,2156],[11976,2140],[12241,2060],[12548,2188],[12692,2124]];
const lineB4 = [[9396,1789],[9730,1757],[10205,1811],[10288,1901],[10595,1964],[10679,2156],[10791,2252],[11014,2236],[11460,2411],[11711,2379],[11990,2570],[12241,2363],[12548,2491],[12692,2363]];
const lineB5 = [[9396,1987],[9758,1964],[10205,2076],[10595,2172],[10721,2299],[11014,2331],[11460,2507],[11711,2459],[11990,2628],[12325,2475],[12548,2698],[12692,2539]];
const lineB6 = [[9396,2204],[9758,2172],[9842,2236],[10121,2315],[10205,2283],[10288,2347],[10623,2427],[10735,2491],[11014,2491],[11460,2682],[11600,2666],[11795,2778],[11990,2826],[12241,2778],[12395,2794],[12604,2896],[12692,2826]];
const lineB7 = [[9465,2507],[9702,2491],[9842,2539],[10107,2586],[10205,2475],[10288,2570],[10651,2650],[10805,2746],[10944,2714],[11460,2890],[11558,2874],[11739,2953],[11962,3049],[12395,3001],[12604,3113],[12692,3033]];
const lineB8 = [[9535,2874],[9744,2794],[9842,2874],[10107,2883],[10210,2756],[10288,2858],[10651,2874],[10805,3017],[10916,2960],[11098,3049],[11432,3138],[11614,3107],[11795,3224],[12102,3320],[12395,3240],[12604,3330],[12692,3209]];
const lineB9 = [[9465,3240],[9674,3151],null,[9926,3215],[10107,3224],[10210,3081],[10288,3193],[10567,3209],[10735,3177],[10805,3272],[10944,3202],[11098,3304],[11349,3416],[11614,3352],[11739,3480],[11851,3559],[12074,3623],[12297,3528],[12409,3512],[12590,3607],[12692,3480]];
const lineB10 = [[9465,3607],[9716,3480],[9856,3607],[10107,3639],[10210,3486],[10302,3601],[10595,3585],[10735,3544],[10805,3623],[10944,3544],[11042,3655],[11111,3681],null,[11349,3808],[11530,3821],[11614,3751],[11697,3942],[11837,4293],[11921,4054],[12032,4287],[12144,4006],[12228,4022],[12395,3840],[12576,4000],[12692,3878]];
const lineB12 = [[9465,4437],[9702,4134],[9758,4245],[9842,4197],[10009,4293],[10121,4469],[10210,4315],[10294,4485],[10581,4453],[10679,4804],[10791,4995],[10944,4724],[11098,4963],[11265,5123],[11516,5457]];
const lineB13 = [[9549,4692],[9702,4453],[9758,4612],[9842,4469],[9982,4580],[10093,4851],[10210,4670],[10294,4931],[10442,4861],[10581,4947],[10651,5314]];
const lineB14 = [[9465,5362],[9702,4979],[9786,5186],[9842,4851],[9982,4931],[10121,5378],[10210,5059]];
const lineB20 = [[10958,1231],[11028,1326],[11460,1454],[11614,1454],[11851,1566],[12269,1550],[12395,1486],[12479,1511],[12590,1358],[12610,1199],[12500,1050],[12200,950],[11600,900],[11000,880],[10500,890],[10280,950],[10200,1000],[10330,1120]];
const lineB50 = [[9379,545],[9518,597],[9844,632]];
const lineB60 = [[9470,754],[9797,788],[9908,858]];
const lineB62 = [[9750,198],[9518,267],[9472,302],[9611,337]];
const lineD1 = [[10348,24],[10397,68],[10641,94],[10653,7]];
const lineD2 = [[9909,111],[10055,94],[10275,128],[10397,128],[10421,198],[10641,233],[10958,302],[11081,285],[11495,253],[11739,285]];
const loopD3 = [[10641,181],[10714,198],[10665,215],[10641,198],[10641,181]];
const lineD4 = [[9909,259],[10055,215],[10202,146]];
const lineD5 = [[10933,163],[11373,146],[11787,129],[12105,111],[12593,76]];
const lineD6 = [[10933,294],[11129,259],[11495,250],[11861,181],[12349,146],[12692,111]];
const lineE1 = [[10250,502],[10446,511],[10885,519],[11032,545],[11471,545],[11763,510],[12056,441],[12349,337],[12692,198]];
const lineE2 = [[10275,536],[10885,571],[11471,589],[12056,493],[12349,389],[12692,241]];
const lineE3 = [[9909,589],[10275,580],[10885,615],[11471,632],[12056,528],[12349,441],[12692,285]];
const lineE4 = [[9909,710],[10055,684],[11032,719],[11495,745],[12056,641],[12349,563],[12593,441],[12692,337]];
const lineE5 = [[9909,771],[10397,753],[11032,762],[11471,788],[12056,719],[12398,701],[12593,563],[12692,389]];
const lineE6 = [[10397,892],[11032,858],[11471,875],[11861,892],[12422,814],[12544,753],[12692,615]];
const lineC1 = [[13109,1438],[13274,1422],[13413,1422],[13469,1390],[13553,1470]];
const lineC2 = [[13109,1677],[13413,1629],[13483,1598],[13553,1661]];
const lineC3 = [[13109,1885],[13413,1789],[13497,1773],[13553,1821]];
const lineC4 = [[13109,2060],[13413,1980],[13483,2028],[13553,1948]];
const lineC5 = [[13109,2379],[13413,2331],[13553,2331]];
const lineC6 = [[13109,2571],[13413,2523],[13553,2475]];
const lineC7 = [[13109,2768],[13274,2698],[13413,2746],[13483,2660],[13553,2690]];
const lineC8 = [[13109,2960],[13274,2953],[13441,3017],[13553,2874]];
const lineC9 = [[13109,3209],[13274,3225],[13441,3304],[13553,3049]];
const lineC10 = [[13109,3489],[13274,3559],[13413,3649],[13497,3432]];
const lineC11 = [[13109,3926],[13274,3990],[13400,4102],[13469,3942],[13511,3815]];
const lineC12 = [[13276,476],[13142,588],[13179,701],[13325,823],[13496,927]];
const lineC13 = [[13496,241],[13593,389]];

// contour numbers: km, depth, text, box colour
const contourLabels = [
  [339,463,'190'],[90,753,'95'],[60,1000,'90'],[1077,528,'240',cMedium],[1456,780,'235',cPurple],[2333,797,'230',cPurple],[2587,797,'225',cPurple],[2925,866,'220',cPurple],[3110,945,'215'],[2945,988,'205'],[3095,979,'210'],
  [1260,1358,'180',cLight],[1214,1470,'175'],[1688,1795,'165'],[2742,1224,'185',cLight],[2742,1636,'160'],[3552,1805,'155'],[945,1875,'185'],[138,1789,'210'],[3628,2165,'150'],[1718,2794,'170'],[3827,2832,'155'],[4087,2992,'160'],[4392,3017,'165'],[1840,3209,'180'],[3781,3480,'175'],[2467,3789,'195'],[2818,3904,'190'],[4163,4086,'185'],[2299,4223,'200'],
  [4170,980,'190'],[4214,875,'200'],[4180,885,'190'],[4644,672,'170',cLight],[4749,441,'175',cLight],[5183,204,'180',cLight],[5455,259,'165',cPale],[5155,395,'140',cPale],[5681,389,'90',cLemon],[6045,450,'80',cLemon],[5634,875,'100',cLemon],[4657,1124,'150'],[6120,1162,'110',cPale],
  [6210,1901,'120'],[6434,2417,'130'],[7466,3173,'140'],[6733,3353,'150'],[6778,3593,'155'],[7077,3781,'160'],[7295,4060,'165'],[7502,4243,'170'],[5483,3494,'170'],[5148,3926,'80'],[5268,4212,'185'],[7789,5072,'175'],[8198,5225,'18'],[6838,4480,'1'],
  [9170,2360,'11'],[9021,2119,'100'],[9050,1901,'90'],[9026,1702,'80'],[9089,1519,'70'],[9065,1317,'60'],[9176,1106,'50'],[9215,965,'4'],[9095,514,'40'],
  [6571,250,'50'],[6658,433,'40'],[6658,398,'60'],[7092,464,'40'],[7940,233,'20'],[8238,256,'20'],[8652,290,'30'],[7997,89,'120',cLemon],[6937,85,'185',cLight],[7063,181,'130',cPale],[7304,138,'155',cLight],[8604,82,'225',cLight],[8441,112,'190',cPale],[8344,33,'220'],[8826,242,'110',cPale],[8884,190,'160'],[9115,224,'175',cLight],
  [9490,137,'205',cMedium],[9739,372,'180',cLight],[9511,467,'100',cPale],[9958,528,'90',cPale],[9970,436,'140',cLight],[10177,424,'165',cPale],[10197,563,'80',cLemon],[10080,597,'60'],[9933,611,'50'],
  [11027,406,'200',cLight],[11349,389,'195',cLight],[11544,432,'185',cLight],[11361,485,'160',cPale],[11617,354,'210',cPurple],[11878,476,'130',cPale],[12105,380,'155',cLight],[11105,693,'70'],[13569,458,'4'],[13313,398,'20'],[13386,215,'30'],[13215,120,'90',cLight],
  [11060,998,'10'],[12467,989,'20'],[9800,3170,'130'],[11223,3751,'140'],[9856,3980,'150'],[9485,4756,'5'],[9479,2820,'0']
];

// striped fill for the ribbons where contours are packed tight
const stripeCanvas = document.createElement('canvas');
stripeCanvas.width = 4;
stripeCanvas.height = 3;
const stripeCtx = stripeCanvas.getContext('2d');
stripeCtx.fillStyle = 'rgba(15,15,15,0.92)';
stripeCtx.fillRect(0, 0, 4, 2);
const cStripes = {image: stripeCanvas, repeat: 'repeat'};

// paint order of the fills: [points, colour]
const fills = [
  [baseA,cMedium],[deepLeft,cPurple],[lightMain,cLight],[floorPatch1,cMedium],[floorPatch2,cMedium],[floorPatch3,cMedium],[floorPatch4,cMedium],[upperPurple,cPurple],[surfacePocket,cLight],
  [mediumTongue,cMedium],[mediumTop1,cMedium],[mediumTop2,cMedium],[mediumRight,cMedium],[mediumSwirl,cMedium],[darkMain,cDark],[darkIsland,cDark],[darkCore,cDark],
  [paleMain,cPale],[lightIsland,cLight],[paleIsland1,cPale],[paleIsland2,cPale],[paleIsland3,cPale],[paleIsland4,cPale],[paleIsland5,cPale],[lemonMain,cLemon],[paleOval1,cPale],[paleOval2,cPale],[yellowMain,cYellow],[yellowLens1,cYellow],[yellowLens2,cYellow],
  [baseB,cPurple],[darkB,cDark],[mediumB,cMedium],[lightB,cLight],[paleB,cPale],[lightDeepB,cLight],[lemonB,cLemon],[yellowB,cYellow],
  [paleC,cPale],[darkC,cDark],[purpleC,cPurple],[lemonC,cLemon],[yellowC,cYellow],[stripeC,cLight],
  [ribbon1,cInk],[ribbon3,cInk],[ribbon5,cInk],[ribbon6,cInk],[ribbon12,cInk],
  [stripes2,cStripes],[stripes4,cStripes],[stripes7,cStripes],[stripes8,cStripes],[stripes9,cStripes],[stripes10,cStripes],[stripes11,cStripes]
];
const contourLines = [lineA1,lineA2,lineA3,lineA4,lineA5,lineL1,lineL2,lineL3,lineL4,lineL5,lineU2,lineU3,lineU4,lineU5,lineT2,lineT3,lineT4,lineT5,loopT6,loopT7,lineT8,lineS2,lineS3,lineS4,slope1,slope2,slope3,slope4,lineH1,lineH1b,lineH1c,lineH1d,lineH2,lineH3,lineH4,lineH5,lineH6,lineH7,lineH8,line140,line130,line120,line110,lineN1,lineN2,lineN3,lineN4,lineN5,lineN6,lineN7,lineN8,lineN9,lineP1,lineP2,lineP3,lineP4,lineP5,line80,line70,line60,line50,lineDots,lineY1,lineY2,loopY3,lineY4,lineY5,lineY6,lineY7,lineY8,lineY9,loopOval,lineV1,lineV2,lineV2b,loopV3,loopV4,loopV5,lineV6,lineV6b,lineV7,lineV8,lineV8b,lineV9,lineV11,lineV12,loopS1,loopS2,loopS3,loopS4,lineS5,lineS6,line150,line150b,lineUp,lineB1,lineB2,lineB3,lineB4,lineB5,lineB6,lineB7,lineB8,lineB9,lineB10,lineB12,lineB13,lineB14,lineB20,lineB50,lineB60,lineB62,lineD1,lineD2,loopD3,lineD4,lineD5,lineD6,lineE1,lineE2,lineE3,lineE4,lineE5,lineE6,lineC1,lineC2,lineC3,lineC4,lineC5,lineC6,lineC7,lineC8,lineC9,lineC10,lineC11,lineC12,lineC13];

const xMax = 13610;
const textFont = '"Liberation Sans", Arial, sans-serif';
const plainNumber = function (v) { return String(v); };

function fillSeries(points, color) {
  return {
    type: 'custom', coordinateSystem: 'cartesian2d', xAxisIndex: 0, yAxisIndex: 0, clip: true, silent: true,
    data: [[0, 0]],
    renderItem: function (params, api) {
      return {type: 'polygon', shape: {points: points.map(function (p) { return api.coord(p); })}, style: {fill: color}};
    }
  };
}
function lineSeries(points) {
  return {
    type: 'line', xAxisIndex: 0, yAxisIndex: 0, showSymbol: false, silent: true, smooth: 0.25,
    lineStyle: {color: '#161616', width: 1.1},
    data: points.map(function (p) { return p || ['-', '-']; })
  };
}
function tickLine(api, km, y1, y2, color, w) {
  const a = api.coord([km, y1]), b = api.coord([km, y2]);
  return {type: 'line', shape: {x1: a[0], y1: a[1], x2: b[0], y2: b[1]}, style: {stroke: color, lineWidth: w}};
}

// station strip, y runs 0..1 over the strip height
function stationStrip(params, api) {
  const km = api.value(0), kind = api.value(1);
  const c = api.coord([km, 0.5]);
  const color = kind === 1 ? '#111' : '#17e817';
  return {type: 'group', children: [
    {type: 'line', shape: {x1: c[0] - 5, y1: c[1], x2: c[0] + 5, y2: c[1]}, style: {stroke: color, lineWidth: 1.6}},
    {type: 'line', shape: {x1: c[0], y1: c[1] - 5, x2: c[0], y2: c[1] + 5}, style: {stroke: color, lineWidth: 1.6}}
  ]};
}
function stationRedTick(params, api) {
  const km = api.value(0), c = api.coord([km, 0.5]);
  return {type: 'group', children: [
    {type: 'line', shape: {x1: c[0], y1: c[1] - 9.5, x2: c[0], y2: c[1] + 9.5}, style: {stroke: '#f05050', lineWidth: 1.2}},
    {type: 'line', shape: {x1: c[0] - 6, y1: c[1], x2: c[0] + 6, y2: c[1]}, style: {stroke: '#f04040', lineWidth: 1}}
  ]};
}
function latTick(params, api) {
  const km = api.value(0), big = api.value(1);
  return big ? tickLine(api, km, 0, 1, '#444', 1.2) : tickLine(api, km, 0.17, 0.83, '#222', 1);
}

const dots = [];
stationKm.forEach(function (km, i) {
  let levels = i % 2 ? levelsEven : levelsOdd;
  if (km >= 6779 && km <= 7240 && i % 3) levels = levelsDense;
  levels.forEach(function (d) { dots.push([km, d]); });
});

const series = [];
fills.forEach(function (f) { series.push(fillSeries(f[0], f[1])); });
series.push({type: 'scatter', xAxisIndex: 0, yAxisIndex: 0, symbolSize: 2.6, silent: true, itemStyle: {color: '#111'}, data: dots});
contourLines.forEach(function (l) { series.push(lineSeries(l)); });
series.push(fillSeries(gapGray, cGray));
series.push({
  type: 'line', xAxisIndex: 0, yAxisIndex: 0, showSymbol: false, silent: true,
  lineStyle: {color: '#000', width: 0.6}, areaStyle: {color: '#000', opacity: 1, origin: 'end'},
  data: bathymetry
});
series.push({
  type: 'scatter', xAxisIndex: 0, yAxisIndex: 0, symbolSize: 1, silent: true, itemStyle: {color: 'transparent'},
  data: contourLabels.map(function (l) {
    return {
      value: [l[0], l[1]],
      label: {
        show: true, position: 'inside', formatter: l[2], color: '#0d0d0d', fontFamily: textFont, fontSize: 23,
        backgroundColor: l[3] || 'transparent', padding: l[3] ? [2, 3] : 0
      }
    };
  })
});
// top strip
series.push({
  type: 'custom', xAxisIndex: 2, yAxisIndex: 2, renderItem: stationStrip, silent: true,
  data: stationKm.map(function (km) { return [km, blackStationKm.indexOf(km) >= 0 ? 1 : 0]; })
});
series.push({
  type: 'custom', xAxisIndex: 2, yAxisIndex: 2, renderItem: stationRedTick, silent: true,
  data: stationLabelKm.map(function (km) { return [km, 0]; })
});
series.push({
  type: 'scatter', xAxisIndex: 2, yAxisIndex: 2, symbolSize: 1, silent: true, clip: false, itemStyle: {color: 'transparent'},
  data: stationLabelKm.map(function (km, i) {
    // numbers sit on a common baseline, longer ones reach further up
    const up = stationLabels[i].length === 3 ? -1.05 : stationLabels[i].length === 2 ? -0.85 : -0.65;
    return {
      value: [km, up],
      label: {show: true, position: 'inside', rotate: 90, formatter: stationLabels[i], color: '#333', fontFamily: '"Liberation Serif", serif', fontSize: 15}
    };
  })
});
// latitude strip
series.push({
  type: 'line', xAxisIndex: 3, yAxisIndex: 3, showSymbol: false, silent: true, lineStyle: {color: '#111', width: 1.2},
  data: [[0, 0.5], [13500, 0.5]]
});
series.push({
  type: 'custom', xAxisIndex: 3, yAxisIndex: 3, renderItem: latTick, silent: true,
  data: latMajorKm.map(function (km) { return [km, 1]; }).concat(latMinorKm.map(function (km) { return [km, 0]; }))
});
series.push({
  type: 'scatter', xAxisIndex: 3, yAxisIndex: 3, symbolSize: 1, silent: true, clip: false, itemStyle: {color: 'transparent'},
  data: latMajorKm.map(function (km, i) {
    return {
      value: [km, 1.82],
      label: {show: true, position: 'inside', formatter: latLabels[i], color: '#111', fontFamily: textFont, fontSize: 23}
    };
  })
});

const hiddenX = {type: 'value', min: 0, max: xMax, show: false};
const hiddenY = {type: 'value', min: 0, max: 1, show: false, inverse: true};

const option = {
  animation: false,
  backgroundColor: '#fff',
  grid: [
    {left: 97.5, top: 82, width: 2613, height: 1248},
    {left: 97.5, top: 82, width: 2613, height: 1248},
    {left: 97.5, top: 38, width: 2613, height: 20},
    {left: 97.5, top: 1387, width: 2613, height: 29}
  ],
  xAxis: [
    {
      type: 'value', gridIndex: 0, position: 'bottom', min: 0, max: xMax, interval: 500,
      splitLine: {show: false},
      axisLine: {lineStyle: {color: '#000', width: 2}},
      axisTick: {show: true, length: 15, lineStyle: {color: '#000', width: 1.2}},
      minorTick: {show: true, splitNumber: 5, length: 7, lineStyle: {color: '#000', width: 1}},
      axisLabel: {margin: 24, color: '#111', fontSize: 23, fontFamily: textFont, showMaxLabel: false, formatter: plainNumber}
    },
    {
      type: 'value', gridIndex: 1, position: 'top', min: 0, max: xMax, interval: 500,
      splitLine: {show: false},
      axisLine: {lineStyle: {color: '#000', width: 3}},
      axisTick: {show: true, length: 15, lineStyle: {color: '#000', width: 1.2}},
      minorTick: {show: true, splitNumber: 5, length: 8, lineStyle: {color: '#000', width: 1}},
      axisLabel: {show: false}
    },
    Object.assign({gridIndex: 2}, hiddenX),
    Object.assign({gridIndex: 3}, hiddenX)
  ],
  yAxis: [
    {
      type: 'value', gridIndex: 0, inverse: true, min: 0, max: 6500, interval: 500, position: 'left',
      splitLine: {show: false},
      axisLine: {show: true, lineStyle: {color: '#000', width: 3}},
      axisTick: {show: true, length: 15, lineStyle: {color: '#000', width: 1.2}},
      minorTick: {show: true, splitNumber: 5, length: 7, lineStyle: {color: '#000', width: 1}},
      axisLabel: {margin: 31, color: '#111', fontSize: 24, fontFamily: textFont, formatter: plainNumber}
    },
    {
      type: 'value', gridIndex: 1, inverse: true, min: 0, max: 6500, interval: 500, position: 'right',
      splitLine: {show: false},
      axisLine: {show: true, lineStyle: {color: '#000', width: 1}},
      axisTick: {show: true, length: 14, lineStyle: {color: '#000', width: 1.2}},
      minorTick: {show: true, splitNumber: 5, length: 6, lineStyle: {color: '#000', width: 1}},
      axisLabel: {show: false}
    },
    Object.assign({gridIndex: 2}, hiddenY),
    Object.assign({gridIndex: 3}, hiddenY)
  ],
  graphic: [
    {type: 'text', left: 50, top: 38, style: {text: 'm', fontSize: 28, fontFamily: textFont, fill: '#111'}},
    {type: 'text', left: 36, top: 1354, style: {text: 'km', fontSize: 26, fontFamily: textFont, fill: '#111'}},
    {type: 'text', left: 35, top: 1424, style: {text: 'Lat', fontSize: 26, fontFamily: textFont, fill: '#111'}},
    {type: 'text', z: 100, left: 205, top: 1218, style: {text: 'WOCE', fontSize: 12, fontWeight: 'bold', fontFamily: textFont, fill: '#8a8a8a'}},
    {type: 'text', z: 100, left: 168, top: 1240, style: {text: 'HYDROGRAPHIC', fontSize: 13, fontWeight: 'bold', fontFamily: textFont, fill: '#8a8a8a'}},
    {type: 'text', z: 100, left: 203, top: 1264, style: {text: 'ATLAS', fontSize: 12, fontWeight: 'bold', fontFamily: textFont, fill: '#8a8a8a'}},
    {type: 'text', z: 100, left: 118, top: 1281, style: {text: 'Computer Generated', fontSize: 23, fontFamily: 'Lato, sans-serif', fill: '#7a7a7a'}}
  ],
  series: series
};

const myChart = echarts.init(document.getElementById('main'), null, {renderer: 'canvas'});
myChart.setOption(option);
</script>
</body>
</html>
